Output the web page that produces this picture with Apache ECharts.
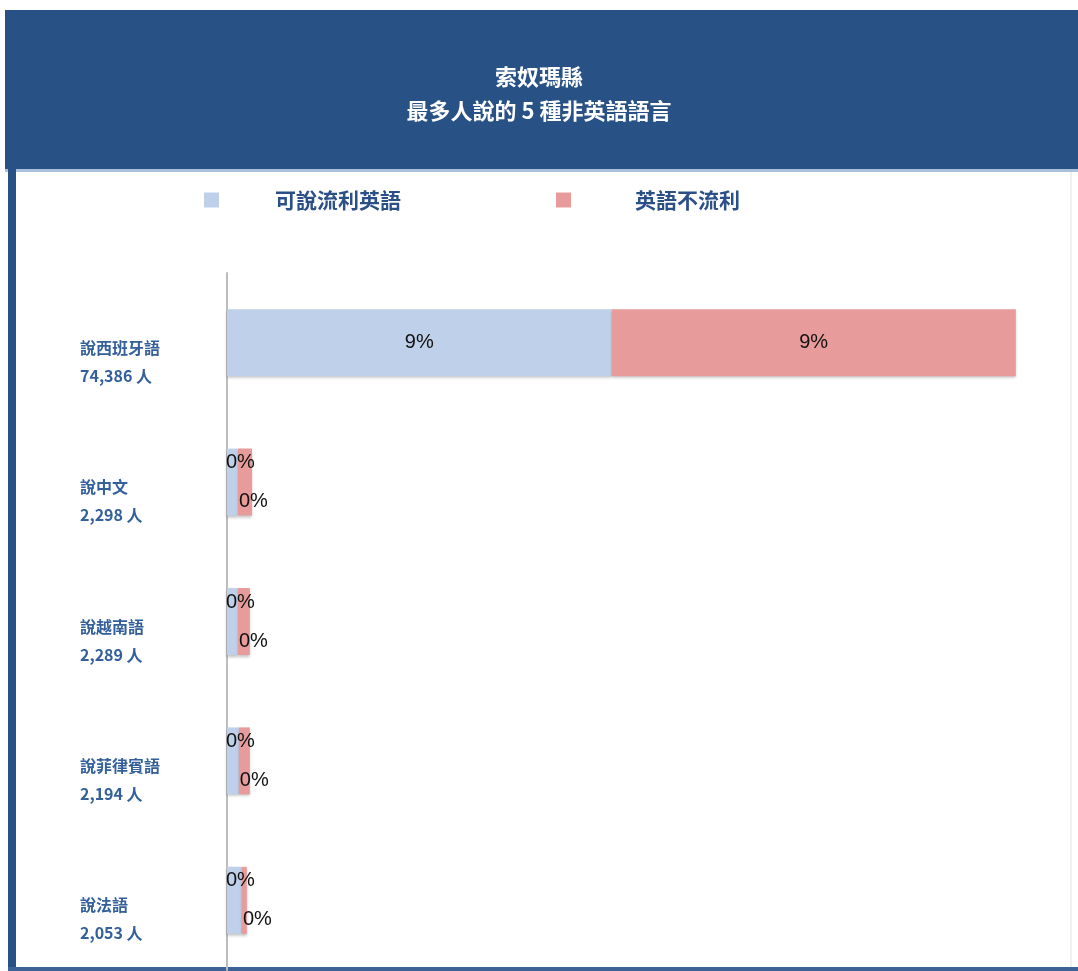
<!DOCTYPE html>
<html>
<head>
<meta charset="utf-8">
<script src="https://cdn.jsdelivr.net/npm/echarts@6/dist/echarts.min.js"></script>
<style>
  html, body { margin: 0; padding: 0; background: #fff; }
  #main { width: 1078px; height: 971px; }
</style>
</head>
<body>
<div id="main"></div>
<script>
// 語言類別（由上而下）
var languages = ['說西班牙語', '說中文', '說越南語', '說菲律賓語', '說法語'];
var speakers = ['74,386 人', '2,298 人', '2,289 人', '2,194 人', '2,053 人'];
// 百分比（佔全縣人口）
var fluent = [8.75, 0.25, 0.25, 0.27, 0.34];     // 可說流利英語
var notFluent = [9.2, 0.32, 0.27, 0.25, 0.11];   // 英語不流利
var seriesNames = ['可說流利英語', '英語不流利'];

var cjk = '"Noto Sans CJK TC", "Noto Sans CJK SC", sans-serif';
var blueText = '#33609a';

var chart = echarts.init(document.getElementById('main'));

function buildData(vals, smallPos) {
  return vals.map(function (v, i) {
    // 第一列是大長條，標籤放中間；其餘小長條標籤擠到旁邊
    if (i === 0) return { value: v, label: { position: 'inside' } };
    return { value: v, label: { position: smallPos, align: 'left', verticalAlign: 'top' } };
  });
}

var valueLabel = {
  show: true,
  formatter: function (p) { return Math.round(p.value) + '%'; },
  color: '#111',
  fontSize: 20,
  fontFamily: '"Liberation Sans", Arial, sans-serif'
};

var option = {
  backgroundColor: '#fff',
  animation: false,
  title: {
    text: '索奴瑪縣\n最多人說的 5 種非英語語言',
    left: 'center',
    top: 55,
    textStyle: { color: '#fff', fontSize: 22, lineHeight: 34, fontWeight: 'bold', fontFamily: cjk }
  },
  legend: [
    {
      data: [seriesNames[0]], left: 199, top: 180, itemWidth: 15, itemHeight: 15,
      icon: 'rect',
      textStyle: { color: '#2b5087', fontSize: 21, fontWeight: 'bold', fontFamily: cjk, padding: [0, 0, 0, 51], lineHeight: 30 }
    },
    {
      data: [seriesNames[1]], left: 551, top: 180, itemWidth: 15, itemHeight: 15,
      icon: 'rect',
      textStyle: { color: '#2b5087', fontSize: 21, fontWeight: 'bold', fontFamily: cjk, padding: [0, 0, 0, 59], lineHeight: 30 }
    }
  ],
  grid: { left: 227, right: 38, top: 273, bottom: 1 },
  xAxis: { type: 'value', min: 0, max: 18.5, show: false },
  yAxis: {
    type: 'category',
    inverse: true,
    data: languages,
    axisLine: { show: true, lineStyle: { color: '#bdbdbd', width: 2 } },
    axisTick: { show: false },
    splitLine: { show: false },
    axisLabel: {
      align: 'left',
      margin: 147,
      padding: [38, 0, 0, 0],
      formatter: function (v, i) { return '{a|' + v + '}\n{b|' + speakers[i] + '}'; },
      rich: {
        a: { color: blueText, fontSize: 16, fontWeight: 'bold', fontFamily: cjk, lineHeight: 28 },
        b: { color: blueText, fontSize: 16, fontWeight: 'bold', fontFamily: cjk, lineHeight: 28 }
      }
    }
  },
  series: [
    {
      name: seriesNames[0], type: 'bar', stack: 'all', barWidth: 67,
      itemStyle: { color: '#bfd1ea', shadowColor: 'rgba(0,0,0,0.25)', shadowBlur: 3, shadowOffsetY: 2 },
      label: valueLabel,
      data: buildData(fluent, [-1, 4])
    },
    {
      name: seriesNames[1], type: 'bar', stack: 'all', barWidth: 67,
      itemStyle: { color: '#e89b9b', shadowColor: 'rgba(0,0,0,0.25)', shadowBlur: 3, shadowOffsetY: 2 },
      label: valueLabel,
      data: buildData(notFluent, [1, 43])
    }
  ],
  graphic: [
    // 深藍色標題區塊
    { type: 'rect', z: -1, shape: { x: 5, y: 10, width: 1073, height: 160 }, style: { fill: '#285185' } },
    { type: 'rect', z: -1, shape: { x: 5, y: 169, width: 1073, height: 3 }, style: { fill: '#a9bfdc' } },
    // 左邊框
    { type: 'rect', z: -1, shape: { x: 8, y: 160, width: 8, height: 811 }, style: { fill: '#285185' } },
    // 下邊框
    { type: 'rect', z: -1, shape: { x: 8, y: 967, width: 1070, height: 4 }, style: { fill: '#3d6396' } },
    // 右側淡線
    { type: 'rect', z: -1, shape: { x: 1070, y: 172, width: 2, height: 795 }, style: { fill: '#f0f0f0' } }
  ]
};

chart.setOption(option);
</script>
</body>
</html>
